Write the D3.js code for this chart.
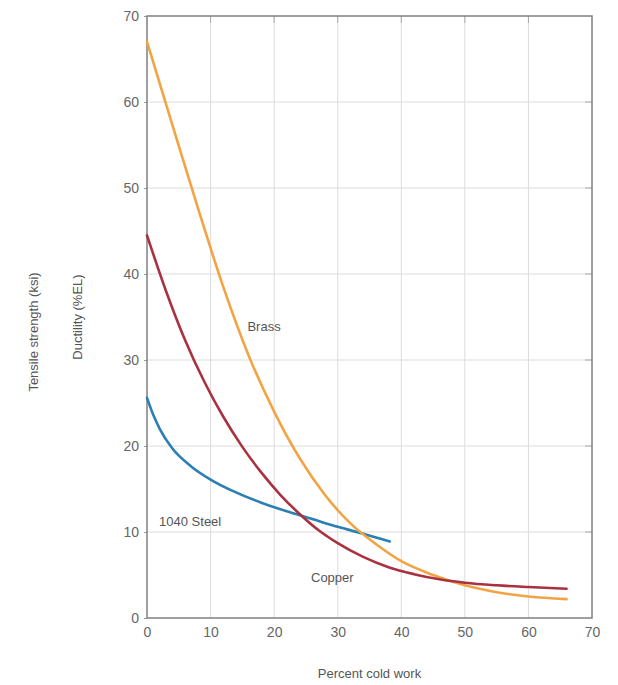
<!DOCTYPE html>
<html>
<head>
<meta charset="utf-8">
<script src="https://cdn.jsdelivr.net/npm/d3@7"></script>
<style>
  body { margin: 0; background: #fff; }
  text { font-family: "Liberation Sans", "DejaVu Sans", sans-serif; }
</style>
</head>
<body>
<div id="chart"></div>
<script>
// values (percent cold work -> ductility %EL)
const brassPct = [0, 4, 8, 12, 16, 20, 24, 28, 32, 36, 40, 45, 50, 55, 60, 66];
const brassEl  = [67, 57.3, 47.7, 38.5, 30.5, 24, 18.6, 14.3, 11, 8.6, 6.6, 5.0, 3.8, 3.0, 2.5, 2.2];

const copperPct = [0, 3, 6, 9, 12, 15, 18, 21, 24, 27, 30, 34, 38, 42, 46, 50, 55, 60, 66];
const copperEl  = [44.5, 38, 32.3, 27.5, 23.4, 19.9, 16.9, 14.3, 12.1, 10.2, 8.7, 7.1, 5.9, 5.1, 4.5, 4.1, 3.8, 3.6, 3.4];

const steelPct = [0, 1, 2, 4, 7, 10, 14, 18, 22, 26, 30, 34, 38.2];
const steelEl  = [25.6, 23.6, 22, 19.7, 17.6, 16.1, 14.6, 13.4, 12.4, 11.5, 10.6, 9.8, 8.9];

const xTicks = [0, 10, 20, 30, 40, 50, 60, 70];
const yTicks = [0, 10, 20, 30, 40, 50, 60, 70];

const width = 618, height = 685;
const margin = {top: 16, right: 26, bottom: 67, left: 147};

const svg = d3.select("#chart").append("svg")
    .attr("width", width)
    .attr("height", height);

const x = d3.scaleLinear().domain([0, 70]).range([margin.left, width - margin.right]);
const y = d3.scaleLinear().domain([0, 70]).range([height - margin.bottom, margin.top]);

// grid
svg.append("g")
  .selectAll("line")
  .data(xTicks.slice(1, -1))
  .enter().append("line")
    .attr("x1", d => x(d)).attr("x2", d => x(d))
    .attr("y1", y(70)).attr("y2", y(0))
    .attr("stroke", "#dcdcdc").attr("stroke-width", 1);

svg.append("g")
  .selectAll("line")
  .data(yTicks.slice(1, -1))
  .enter().append("line")
    .attr("x1", x(0)).attr("x2", x(70))
    .attr("y1", d => y(d)).attr("y2", d => y(d))
    .attr("stroke", "#dcdcdc").attr("stroke-width", 1);

// short darker ticks on the inside of top and right edges
svg.append("g")
  .selectAll("line")
  .data(xTicks.slice(1, -1))
  .enter().append("line")
    .attr("x1", d => x(d)).attr("x2", d => x(d))
    .attr("y1", y(70)).attr("y2", y(70) + 7)
    .attr("stroke", "#aaa");

svg.append("g")
  .selectAll("line")
  .data(yTicks.slice(1, -1))
  .enter().append("line")
    .attr("x1", x(70) - 7).attr("x2", x(70))
    .attr("y1", d => y(d)).attr("y2", d => y(d))
    .attr("stroke", "#aaa");

// axes
const xAxis = d3.axisBottom(x).tickValues(xTicks).tickSize(0).tickPadding(9);
const yAxis = d3.axisLeft(y).tickValues(yTicks).tickSize(3).tickPadding(5);

const gx = svg.append("g")
    .attr("transform", "translate(0," + y(0) + ")")
    .call(xAxis);
const gy = svg.append("g")
    .attr("transform", "translate(" + x(0) + ",0)")
    .call(yAxis);

[gx, gy].forEach(g => {
  g.select(".domain").remove();
  g.selectAll(".tick line").attr("stroke", "#999");
  g.selectAll("text")
    .attr("fill", "#666")
    .style("font-size", "14px");
});

// frame
svg.append("rect")
    .attr("x", x(0)).attr("y", y(70))
    .attr("width", x(70) - x(0))
    .attr("height", y(0) - y(70))
    .attr("fill", "none")
    .attr("stroke", "#808080")
    .attr("stroke-width", 1.5);

// curves
const line = d3.line()
    .x(d => x(d[0]))
    .y(d => y(d[1]))
    .curve(d3.curveMonotoneX);

const series = [
  {pct: steelPct, el: steelEl, color: "#2b7fb3"},
  {pct: brassPct, el: brassEl, color: "#f2a444"},
  {pct: copperPct, el: copperEl, color: "#a8323f"}
];

svg.append("g")
  .selectAll("path")
  .data(series)
  .enter().append("path")
    .attr("d", s => line(s.pct.map((p, i) => [p, s.el[i]])))
    .attr("fill", "none")
    .attr("stroke", s => s.color)
    .attr("stroke-width", 2.6)
    .attr("stroke-linecap", "round");

// curve labels
const labels = [
  {text: "Brass", px: 15.8, v: 33.4},
  {text: "1040 Steel", px: 1.9, v: 10.7},
  {text: "Copper", px: 25.8, v: 4.2}
];

svg.append("g")
  .selectAll("text")
  .data(labels)
  .enter().append("text")
    .attr("x", d => x(d.px))
    .attr("y", d => y(d.v))
    .attr("fill", "#555")
    .style("font-size", "13px")
    .text(d => d.text);

// axis titles
svg.append("text")
    .attr("x", x(35))
    .attr("y", 678)
    .attr("text-anchor", "middle")
    .attr("fill", "#555")
    .style("font-size", "13px")
    .text("Percent cold work");

svg.append("text")
    .attr("transform", "translate(38,332)rotate(-90)")
    .attr("text-anchor", "middle")
    .attr("fill", "#555")
    .style("font-size", "13px")
    .text("Tensile strength (ksi)");

svg.append("text")
    .attr("transform", "translate(82,317)rotate(-90)")
    .attr("text-anchor", "middle")
    .attr("fill", "#555")
    .style("font-size", "13px")
    .text("Ductility (%EL)");
</script>
</body>
</html>
